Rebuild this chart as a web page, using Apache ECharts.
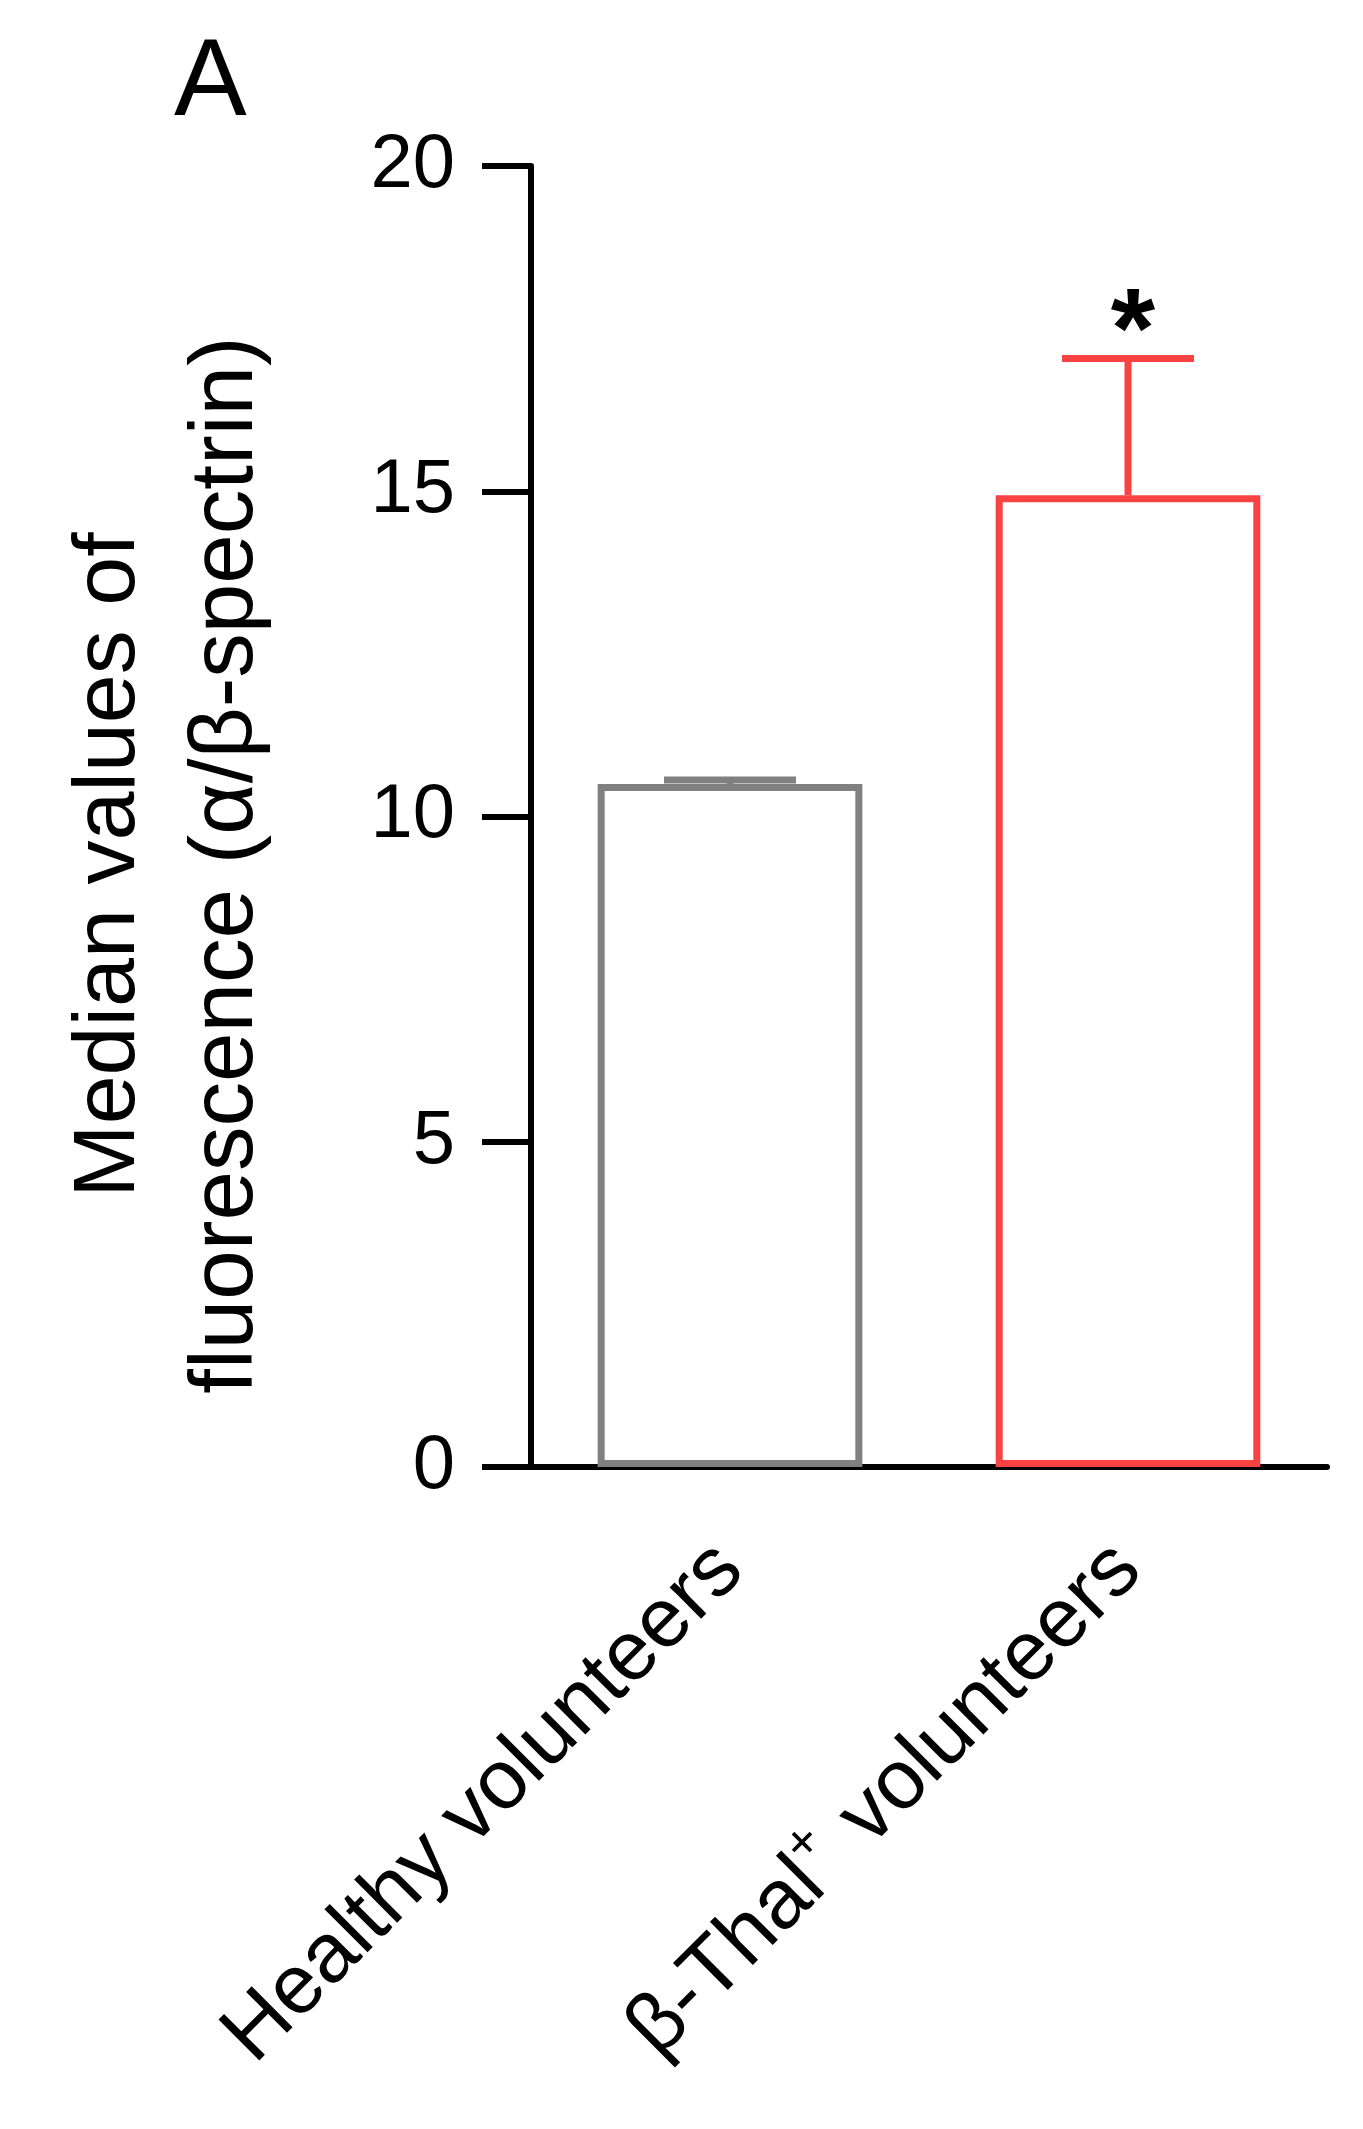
<!DOCTYPE html>
<html>
<head>
<meta charset="utf-8">
<script src="https://cdn.jsdelivr.net/npm/echarts@6/dist/echarts.min.js"></script>
<style>
  html, body { margin: 0; padding: 0; background: #fff; }
  #chart { width: 1363px; height: 2129px; }
</style>
</head>
<body>
<div id="chart"></div>
<script>
// values
const categories = ['Healthy volunteers', 'β-Thal+ volunteers'];
const medianValues = [10.50, 14.94];
const errorTop = [10.56, 17.04];
const sigMarks = ['', '*'];
const yMin = 0, yMax = 20, yStep = 5;

const barColors = ['#808080', '#F94343'];
const FONT = '"Liberation Sans", Arial, sans-serif';

const myChart = echarts.init(document.getElementById('chart'));

const option = {
  backgroundColor: '#fff',
  animation: false,
  grid: { left: 531, right: 36, top: 166, bottom: 662 },
  xAxis: {
    type: 'category',
    data: categories,
    axisLine: { lineStyle: { color: '#000', width: 6 } },
    axisTick: { alignWithLabel: true, length: 55, lineStyle: { color: '#000', width: 6 } },
    axisLabel: {
      rotate: 45,
      margin: 90,
      color: '#000',
      fontSize: 84,
      fontFamily: FONT,
      formatter: function (v) {
        return v.replace('+', '{sup|+}');
      },
      rich: {
        sup: { fontSize: 52, fontFamily: FONT, color: '#000', padding: [0, 6, 52, 0] }
      }
    }
  },
  yAxis: {
    type: 'value',
    min: yMin,
    max: yMax,
    interval: yStep,
    splitLine: { show: false },
    axisLine: { show: true, lineStyle: { color: '#000', width: 6 } },
    axisTick: { show: true, length: 49, lineStyle: { color: '#000', width: 6 } },
    axisLabel: { margin: 76, color: '#000', fontSize: 76, fontFamily: FONT }
  },
  series: [
    {
      type: 'bar',
      barWidth: '66.5%',
      data: medianValues.map((v, i) => ({
        value: v,
        itemStyle: { color: '#fff', borderColor: barColors[i], borderWidth: 7 }
      }))
    },
    {
      type: 'custom',
      z: 3,
      data: categories.map((c, i) => [i, medianValues[i], errorTop[i]]),
      renderItem: function (params, api) {
        const i = api.value(0);
        const base = api.coord([i, api.value(1)]);
        const top = api.coord([i, api.value(2)]);
        const half = 66;
        const col = barColors[params.dataIndex];
        const children = [
          { type: 'line', shape: { x1: base[0], y1: base[1], x2: top[0], y2: top[1] },
            style: { stroke: col, lineWidth: 7 } },
          { type: 'line', shape: { x1: top[0] - half, y1: top[1], x2: top[0] + half, y2: top[1] },
            style: { stroke: col, lineWidth: 7 } }
        ];
        const mark = sigMarks[params.dataIndex];
        if (mark) {
          children.push({
            type: 'text',
            x: top[0] + 5,
            y: top[1] + 34,
            style: {
              text: mark, fill: '#000', fontSize: 114, fontWeight: 'bold', fontFamily: FONT,
              align: 'center', verticalAlign: 'bottom'
            }
          });
        }
        return { type: 'group', children: children };
      }
    }
  ]
};

myChart.setOption(option);

// extend the x axis line to the left past the y axis, like the original
const axisY = myChart.convertToPixel({ yAxisIndex: 0 }, 0);

myChart.setOption({
  graphic: [
    { type: 'line', shape: { x1: 482, y1: axisY, x2: 532, y2: axisY },
      style: { stroke: '#000', lineWidth: 6 } },
    { type: 'text', left: 174, top: 30,
      style: { text: 'A', fill: '#000', fontSize: 109, fontFamily: FONT } },
    { type: 'text', x: 110, y: 865, rotation: Math.PI / 2,
      style: { text: 'Median values of', fill: '#000', fontSize: 88, fontFamily: FONT,
        align: 'center', verticalAlign: 'middle' } },
    { type: 'text', x: 227, y: 865, rotation: Math.PI / 2,
      style: { text: 'fluorescence (α/β-spectrin)', fill: '#000', fontSize: 89, fontFamily: FONT,
        align: 'center', verticalAlign: 'middle' } }
  ]
});
</script>
</body>
</html>
